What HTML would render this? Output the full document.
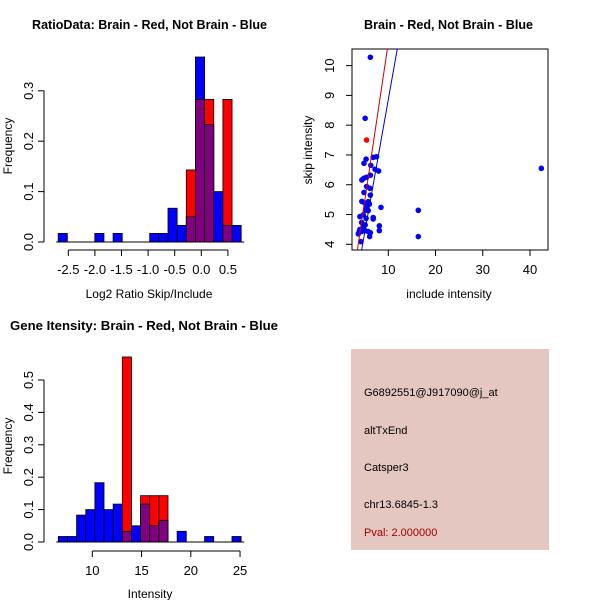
<!DOCTYPE html>
<html><head><meta charset="utf-8"><style>
body{margin:0;background:#fff}
svg{display:block;font-family:"Liberation Sans",sans-serif}
</style></head><body>
<svg id="s" width="600" height="600" viewBox="0 0 600 600" xmlns="http://www.w3.org/2000/svg">
<rect width="600" height="600" fill="#fff"/>
<text x="32" y="29" font-size="13" font-weight="bold" textLength="235" lengthAdjust="spacingAndGlyphs">RatioData: Brain - Red, Not Brain - Blue</text>
<text x="364" y="29" font-size="13" font-weight="bold" textLength="169" lengthAdjust="spacingAndGlyphs">Brain - Red, Not Brain - Blue</text>
<text x="10" y="330" font-size="13" font-weight="bold" textLength="268" lengthAdjust="spacingAndGlyphs">Gene Itensity: Brain - Red, Not Brain - Blue</text>
<g>
<rect x="351" y="349" width="198" height="201" fill="#e5c7c1"/>
<text x="364" y="396" font-size="11">G6892551@J917090@j_at</text>
<text x="364" y="434" font-size="11">altTxEnd</text>
<text x="364" y="471" font-size="11">Catsper3</text>
<text x="364" y="508" font-size="11">chr13.6845-1.3</text>
<text x="364" y="536" font-size="11" fill="#a00000">Pval: 2.000000</text>
</g>
</svg>
<script>
// ---- Ratio histogram data ----
const ratioBinStart = -2.69;
const ratioBinWidth = 0.172;
const ratioBlue = [0.017,0,0,0,0.017,0,0.017,0,0,0,0.017,0.017,0.067,0.033,0.05,0.367,0.233,0.1,0.033,0.033];
const ratioRed  = [0,0,0,0,0,0,0,0,0,0,0,0,0,0,0.143,0.283,0.283,0,0.283,0];
const ratioXTicks = [-2.5,-2.0,-1.5,-1.0,-0.5,0.0,0.5];
const ratioXTickLabels = ["-2.5","-2.0","-1.5","-1.0","-0.5","0.0","0.5"];
const ratioYTicks = [0,0.1,0.2,0.3];
const ratioYTickLabels = ["0.0","0.1","0.2","0.3"];
// ---- Intensity histogram data ----
const intBinStart = 6.55;
const intBinWidth = 0.928;
const intBlue = [0.017,0.017,0.083,0.1,0.183,0.1,0.117,0.033,0.05,0.117,0.05,0.067,0,0.033,0,0,0.017,0,0,0.017];
const intRed  = [0,0,0,0,0,0,0,0.571,0,0.143,0.143,0.143,0,0,0,0,0,0,0,0];
const intXTicks = [10,15,20,25];
const intXTickLabels = ["10","15","20","25"];
const intYTicks = [0,0.1,0.2,0.3,0.4,0.5];
const intYTickLabels = ["0.0","0.1","0.2","0.3","0.4","0.5"];
// ---- Scatter data ----
const includeBlue = [6.2,5.1,4.85,5.3,6.8,7.5,6.3,7.2,7.95,4.4,4.85,5.4,6.2,5.4,6.1,6.2,4.85,8.45,4.4,5.05,5.75,6.0,5.4,5.2,5.75,4.0,4.7,5.3,6.8,6.8,4.35,4.7,5.1,4.0,3.85,4.35,5.05,5.75,6.2,6.05,3.65,4.2,8.1,8.1,16.35,16.35,42.4];
const skipBlue    = [10.28,8.23,6.72,6.86,6.92,6.94,6.65,6.52,6.46,6.16,6.22,6.25,6.32,5.94,5.88,5.65,5.74,5.24,5.44,5.38,5.43,5.35,5.27,5.15,5.13,4.93,4.99,4.87,4.9,4.85,4.73,4.59,4.65,4.5,4.43,4.43,4.46,4.43,4.39,4.26,4.35,4.09,4.62,4.46,5.14,4.26,6.55];
const includeRed = [5.4];
const skipRed = [7.5];
const fitRed = [0.14,1.063];   // intercept, slope
const fitBlue = [-0.08,0.894];
const scatXTicks = [10,20,30,40];
const scatXTickLabels = ["10","20","30","40"];
const scatYTicks = [4,5,6,7,8,9,10];
const scatYTickLabels = ["4","5","6","7","8","9","10"];

const NS="http://www.w3.org/2000/svg";
const svg=document.getElementById('s');
function mk(tag,attrs,parent){const e=document.createElementNS(NS,tag);for(const k in attrs)e.setAttribute(k,attrs[k]);(parent||svg).appendChild(e);return e;}

function histogram(name,binStart,binWidth,blue,red,xTicks,xLabels,yTicks,yLabels,sx,sy,axisY,axisX,yLabelX,xTitle,xTitleX,xTitleY,yTitleX,yTitleY){
  const g=mk('g',{});
  
  
  for(let i=0;i<blue.length;i++){
    const x0=sx(binStart+i*binWidth), x1=sx(binStart+(i+1)*binWidth);
    const b=blue[i], r=red[i], m=Math.min(b,r);
    if(b>0){const e=mk('rect',{x:x0,y:sy(b),width:x1-x0,height:sy(0)-sy(b),fill:'#0000ff',stroke:'#000','stroke-width':0.8},g);
      
      }
    if(r>0){const e=mk('rect',{x:x0,y:sy(r),width:x1-x0,height:sy(0)-sy(r),fill:'#ff0000',stroke:'#000','stroke-width':0.8},g);
      
      }
    if(m>0){const e=mk('rect',{x:x0,y:sy(m),width:x1-x0,height:sy(0)-sy(m),fill:'#800080',stroke:'#000','stroke-width':0.8},g);
      
      }
  }
  const bl=mk('line',{x1:sx(binStart)-2,x2:sx(binStart+blue.length*binWidth)+3,y1:sy(0),y2:sy(0),stroke:'#000'},g);
  
  
  const xa=mk('line',{x1:sx(xTicks[0]),x2:sx(xTicks[xTicks.length-1]),y1:axisY,y2:axisY,stroke:'#000'},g);
  
  
  xTicks.forEach((t,i)=>{mk('line',{x1:sx(t),x2:sx(t),y1:axisY,y2:axisY+6,stroke:'#000'},g);
    const tx=mk('text',{x:sx(t),y:axisY+24,'font-size':13,'text-anchor':'middle'},g);tx.textContent=xLabels[i];
    
    });
  const ya=mk('line',{x1:axisX,x2:axisX,y1:sy(yTicks[0]),y2:sy(yTicks[yTicks.length-1]),stroke:'#000'},g);
  
  
  yTicks.forEach((t,i)=>{mk('line',{x1:axisX-6,x2:axisX,y1:sy(t),y2:sy(t),stroke:'#000'},g);
    const tx=mk('text',{x:yLabelX,y:sy(t),'font-size':13,'text-anchor':'middle',transform:`rotate(-90 ${yLabelX} ${sy(t)})`},g);tx.textContent=yLabels[i];
    
    });
  const xt=mk('text',{x:xTitleX,y:xTitleY,'font-size':12,'text-anchor':'middle'},g);xt.textContent=xTitle;
  
  
  const yt=mk('text',{x:yTitleX,y:yTitleY,'font-size':12,'text-anchor':'middle',transform:`rotate(-90 ${yTitleX} ${yTitleY})`},g);yt.textContent='Frequency';
  
  
}
const rsx=v=>201.3+v*53.2, rsy=v=>242-v*504;
histogram('ratio-histogram',ratioBinStart,ratioBinWidth,ratioBlue,ratioRed,ratioXTicks,ratioXTickLabels,ratioYTicks,ratioYTickLabels,rsx,rsy,250,44,33,'Log2 Ratio Skip/Include',149,298,12,146);
const isx=v=>92.3+(v-10)*9.85, isy=v=>542-v*324;
histogram('intensity-histogram',intBinStart,intBinWidth,intBlue,intRed,intXTicks,intXTickLabels,intYTicks,intYTickLabels,isx,isy,551,44,33,'Intensity',150,598,12,446);

const ssx=v=>388.3+(v-10)*4.723, ssy=v=>244.3-(v-4)*29.78;
const sg=mk('g',{});


const clip=mk('clipPath',{id:'pc'},sg);mk('rect',{x:352,y:49,width:196,height:201},clip);
const box=mk('rect',{x:352,y:49,width:196,height:201,fill:'none',stroke:'#000'},sg);


includeBlue.forEach((v,i)=>{const c=mk('circle',{cx:ssx(v),cy:ssy(skipBlue[i]),r:2.8,fill:'#0000ff'},sg);
  
  });
includeRed.forEach((v,i)=>{const c=mk('circle',{cx:ssx(v),cy:ssy(skipRed[i]),r:2.8,fill:'#ff0000'},sg);
  
  });
[[fitRed,'#cc0000','red-fit-line'],[fitBlue,'#0000cc','blue-fit-line']].forEach(([f,col,n])=>{
  const x0=2,x1=20;
  const l=mk('line',{x1:ssx(x0),y1:ssy(f[0]+f[1]*x0),x2:ssx(x1),y2:ssy(f[0]+f[1]*x1),stroke:col,'stroke-width':1,'clip-path':'url(#pc)'},sg);
  
  
});
scatXTicks.forEach((t,i)=>{mk('line',{x1:ssx(t),x2:ssx(t),y1:250,y2:256,stroke:'#000'},sg);
  const tx=mk('text',{x:ssx(t),y:274,'font-size':13,'text-anchor':'middle'},sg);tx.textContent=scatXTickLabels[i];
  
  });
scatYTicks.forEach((t,i)=>{mk('line',{x1:346,x2:352,y1:ssy(t),y2:ssy(t),stroke:'#000'},sg);
  const tx=mk('text',{x:334,y:ssy(t),'font-size':13,'text-anchor':'middle',transform:`rotate(-90 334 ${ssy(t)})`},sg);tx.textContent=scatYTickLabels[i];
  
  });
const sxt=mk('text',{x:449,y:298,'font-size':12,'text-anchor':'middle'},sg);sxt.textContent='include intensity';


const syt=mk('text',{x:312,y:150,'font-size':12,'text-anchor':'middle',transform:'rotate(-90 312 150)'},sg);syt.textContent='skip intensity';


</script>
</body></html>
